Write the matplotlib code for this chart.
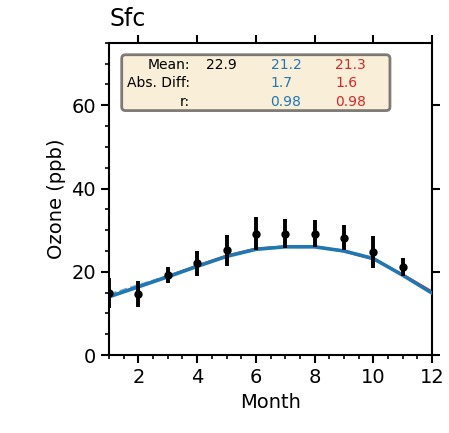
import matplotlib
matplotlib.use("Agg")
import matplotlib.pyplot as plt
from matplotlib.patches import FancyBboxPatch
from matplotlib.ticker import MultipleLocator

months = [1, 2, 3, 4, 5, 6, 7, 8, 9, 10, 11, 12]
obs_months = [1, 2, 3, 4, 5, 6, 7, 8, 9, 10, 11]
obs = [14.8, 14.6, 19.2, 22.0, 25.2, 29.2, 29.2, 29.2, 28.2, 24.8, 21.2]
obs_err = [3.6, 3.1, 1.9, 2.9, 3.7, 3.9, 3.4, 3.3, 3.0, 3.9, 2.2]
model_blue = [14.0, 16.4, 18.8, 21.3, 23.7, 25.4, 26.0, 26.0, 25.0, 23.2, 19.2, 14.9]
model_red = [14.1, 16.5, 19.0, 21.5, 23.9, 25.6, 26.1, 26.1, 24.9, 23.0, 19.4, 15.3]
model_blue_dash = [14.6, 16.8, 19.0, 21.4, 23.8, 25.5, 26.1, 26.1, 25.1, 23.3, 19.3, 15.0]

stats_labels = ["Mean:", "Abs. Diff:", "r:"]
obs_stats = ["22.9", "", ""]
blue_stats = ["21.2", "1.7", "0.98"]
red_stats = ["21.3", "1.6", "0.98"]

blue = "#1f77b4"
red = "#d62728"

fig = plt.figure(figsize=(4.49, 4.33), dpi=100)
ax = fig.add_axes([0.243, 0.180, 0.719, 0.721])

ax.plot(months, model_red, color=red, lw=1.5, zorder=2)
ax.plot(months, model_blue_dash, color="#6fa8d6", lw=1.5, ls="--", zorder=2)
ax.plot(months, model_blue, color=blue, lw=2.6, zorder=3)
ax.errorbar(obs_months, obs, yerr=obs_err, fmt="o", color="black", ms=5,
            elinewidth=2.8, capsize=0, zorder=4)

ax.set_xlim(1, 12)
ax.set_ylim(0, 75)
ax.xaxis.set_major_locator(MultipleLocator(2))
ax.xaxis.set_minor_locator(MultipleLocator(0.5))
ax.yaxis.set_major_locator(MultipleLocator(20))
ax.yaxis.set_minor_locator(MultipleLocator(5))
ax.tick_params(axis="both", which="major", labelsize=14, length=6, width=1.5,
               top=True, right=True)
ax.tick_params(axis="both", which="minor", length=3, width=1.2)
ax.tick_params(axis="x", which="minor", top=False)
ax.tick_params(axis="y", which="minor", right=False)
for s in ax.spines.values():
    s.set_linewidth(1.5)

ax.set_xlabel("Month", fontsize=14)
ax.set_ylabel("Ozone (ppb)", fontsize=14)
ax.set_title("Sfc", loc="left", fontsize=17, pad=12)

box = FancyBboxPatch((0.039, 0.783), 0.831, 0.179,
                     boxstyle="round,pad=0,rounding_size=0.012",
                     transform=ax.transAxes, facecolor="#f5deb3", alpha=0.5,
                     edgecolor="black", lw=2, zorder=5)
ax.add_patch(box)

rows_y = [0.928, 0.871, 0.812]
fs = 10
for i, y in enumerate(rows_y):
    ax.text(0.251, y, stats_labels[i], transform=ax.transAxes, ha="right",
            va="center", fontsize=fs, zorder=6)
    ax.text(0.300, y, obs_stats[i], transform=ax.transAxes, ha="left",
            va="center", fontsize=fs, color="black", zorder=6)
    ax.text(0.500, y, blue_stats[i], transform=ax.transAxes, ha="left",
            va="center", fontsize=fs, color=blue, zorder=6)
    ax.text(0.700, y, red_stats[i], transform=ax.transAxes, ha="left",
            va="center", fontsize=fs, color=red, zorder=6)

fig.savefig("out.png", dpi=100)
